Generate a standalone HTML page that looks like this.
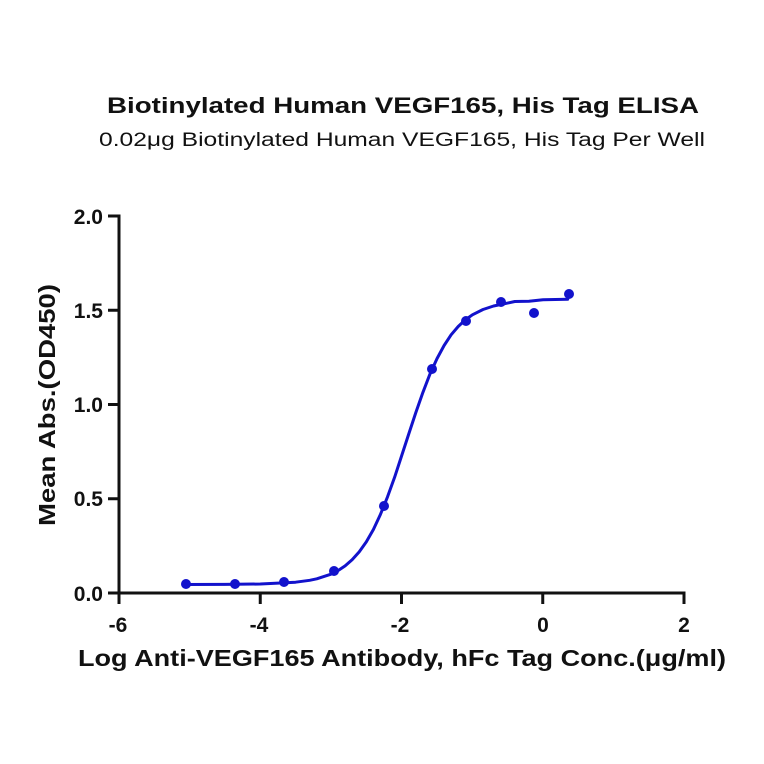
<!DOCTYPE html>
<html>
<head>
<meta charset="utf-8">
<style>
  html, body { margin: 0; padding: 0; background: #ffffff; }
  svg { display: block; }
  text { font-family: "Liberation Sans", Arial, sans-serif; fill: #111; }
</style>
</head>
<body>
<svg width="764" height="764" viewBox="0 0 764 764" xmlns="http://www.w3.org/2000/svg">
  <rect width="764" height="764" fill="#ffffff"/>

  <!-- Titles -->
  <text x="403" y="113" font-size="22" font-weight="bold" text-anchor="middle" textLength="592" lengthAdjust="spacingAndGlyphs">Biotinylated Human VEGF165, His Tag ELISA</text>
  <text x="402" y="146" font-size="19" text-anchor="middle" textLength="606" lengthAdjust="spacingAndGlyphs">0.02μg Biotinylated Human VEGF165, His Tag Per Well</text>

  <!-- Axes -->
  <g stroke="#111" stroke-width="3" fill="none" stroke-linecap="butt">
    <line x1="119" y1="216" x2="119" y2="604"/>
    <line x1="119" y1="593" x2="685.5" y2="593"/>
    <!-- y ticks -->
    <line x1="108" y1="216" x2="120.5" y2="216"/>
    <line x1="108" y1="310.25" x2="119" y2="310.25"/>
    <line x1="108" y1="404.5" x2="119" y2="404.5"/>
    <line x1="108" y1="498.75" x2="119" y2="498.75"/>
    <line x1="108" y1="593" x2="119" y2="593"/>
    <!-- x ticks -->
    <line x1="260.25" y1="593" x2="260.25" y2="604"/>
    <line x1="401.5" y1="593" x2="401.5" y2="604"/>
    <line x1="542.75" y1="593" x2="542.75" y2="604"/>
    <line x1="684" y1="591.5" x2="684" y2="604"/>
  </g>

  <!-- Y tick labels -->
  <g font-size="21" font-weight="bold" text-anchor="end">
    <text x="103" y="224">2.0</text>
    <text x="103" y="318">1.5</text>
    <text x="103" y="412">1.0</text>
    <text x="103" y="506">0.5</text>
    <text x="103" y="601">0.0</text>
  </g>

  <!-- X tick labels -->
  <g font-size="21" font-weight="bold" text-anchor="middle">
    <text x="118" y="632">-6</text>
    <text x="259" y="632">-4</text>
    <text x="400" y="632">-2</text>
    <text x="543" y="632">0</text>
    <text x="684" y="632">2</text>
  </g>

  <!-- Axis titles -->
  <text x="402" y="666" font-size="23" font-weight="bold" text-anchor="middle" textLength="648" lengthAdjust="spacingAndGlyphs">Log Anti-VEGF165 Antibody, hFc Tag Conc.(μg/ml)</text>
  <text transform="translate(55,405) rotate(-90)" x="0" y="0" font-size="23" font-weight="bold" text-anchor="middle" textLength="242" lengthAdjust="spacingAndGlyphs">Mean Abs.(OD450)</text>

  <!-- Fitted curve -->
  <polyline fill="none" stroke="#1212cc" stroke-width="3" stroke-linejoin="round" stroke-linecap="round"
    points="186.1,584.5 225,584.4 260.3,584.0 295.6,582.2 309.7,580.3 316.8,578.8 331,574.2 338,570.6 345.1,565.9 352.1,559.8 359.2,551.9 366.3,541.9 373.4,529.5 380.4,514.5 387.5,496.9 394.6,477.3 401.6,455.9 408.7,434.1 415.8,412.6 422.9,392.4 429.9,374.2 437.0,358.6 444.1,345.5 451.1,334.8 458.2,326.5 465.3,319.9 472.4,314.8 483,309.5 493.6,306.0 504.2,303.8 514.8,301.5 528.9,301.2 543,299.7 567.7,299.2"/>

  <!-- Data points -->
  <g fill="#1212cc">
    <circle cx="186" cy="584" r="5"/>
    <circle cx="235" cy="584" r="5"/>
    <circle cx="284" cy="582" r="5"/>
    <circle cx="334" cy="571" r="5"/>
    <circle cx="384" cy="506" r="5"/>
    <circle cx="432" cy="369" r="5"/>
    <circle cx="466" cy="321" r="5"/>
    <circle cx="501" cy="302" r="5"/>
    <circle cx="534" cy="313" r="5"/>
    <circle cx="569" cy="294" r="5"/>
  </g>
</svg>
</body>
</html>
